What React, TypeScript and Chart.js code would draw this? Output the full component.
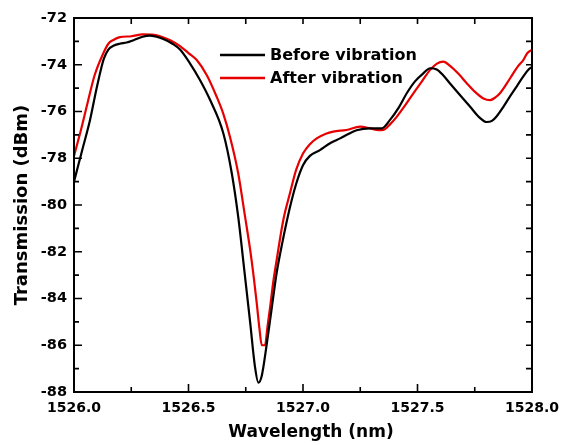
import React, { useEffect, useRef } from "react";
import { Chart, registerables } from "chart.js";

Chart.register(...registerables);

// ---- Data ----
const seriesLabels = ["Before vibration", "After vibration"];
const seriesColors = ["#000000", "#e60000"];

const xTickLabels = ["1526.0", "1526.5", "1527.0", "1527.5", "1528.0"];
const yTickLabels = ["-88", "-86", "-84", "-82", "-80", "-78", "-76", "-74", "-72"];

const beforeWl = [
  1526.0, 1526.02, 1526.04, 1526.07, 1526.1, 1526.13, 1526.15, 1526.17, 1526.2, 1526.23,
  1526.26, 1526.3, 1526.33, 1526.36, 1526.39, 1526.43, 1526.463, 1526.507, 1526.55, 1526.594,
  1526.652, 1526.689, 1526.717, 1526.745, 1526.769, 1526.79, 1526.805, 1526.82, 1526.841, 1526.865,
  1526.885, 1526.91, 1526.943, 1526.97, 1527.0, 1527.03, 1527.074, 1527.12, 1527.162, 1527.2,
  1527.234, 1527.293, 1527.344, 1527.38, 1527.42, 1527.453, 1527.49, 1527.525, 1527.555, 1527.584,
  1527.612, 1527.642, 1527.69, 1527.73, 1527.77, 1527.802, 1527.825, 1527.846, 1527.875, 1527.904,
  1527.935, 1527.962, 1527.985, 1528.0,
];
const beforeDbm = [
  -79.0, -78.25, -77.5, -76.36, -74.95, -73.75, -73.35, -73.2, -73.1, -73.05,
  -72.95, -72.8, -72.75, -72.8, -72.9, -73.1, -73.35, -73.95, -74.65, -75.5,
  -76.93, -78.64, -80.5, -82.9, -85.0, -86.9, -87.6, -87.3, -86.0, -84.3,
  -82.9, -81.6, -80.1, -79.1, -78.3, -77.9, -77.65, -77.35, -77.15, -76.95,
  -76.8, -76.72, -76.72, -76.36, -75.8, -75.22, -74.7, -74.37, -74.15, -74.2,
  -74.45, -74.8, -75.35, -75.8, -76.25, -76.45, -76.4, -76.2, -75.8, -75.35,
  -74.9, -74.5, -74.2, -74.1,
];

const afterWl = [
  1526.0, 1526.03, 1526.06, 1526.09, 1526.128, 1526.15, 1526.172, 1526.2, 1526.25, 1526.3,
  1526.35, 1526.376, 1526.42, 1526.463, 1526.5, 1526.536, 1526.58, 1526.623, 1526.652, 1526.681,
  1526.717, 1526.747, 1526.769, 1526.785, 1526.798, 1526.81, 1526.82, 1526.834, 1526.845, 1526.856,
  1526.87, 1526.885, 1526.914, 1526.943, 1526.97, 1527.0, 1527.03, 1527.06, 1527.1, 1527.132,
  1527.19, 1527.249, 1527.293, 1527.33, 1527.351, 1527.38, 1527.41, 1527.445, 1527.482, 1527.52,
  1527.555, 1527.585, 1527.613, 1527.642, 1527.68, 1527.715, 1527.75, 1527.788, 1527.817, 1527.84,
  1527.86, 1527.89, 1527.918, 1527.94, 1527.962, 1527.98, 1528.0,
];
const afterDbm = [
  -77.9, -76.8, -75.6, -74.45, -73.51, -73.1, -72.94, -72.82, -72.78, -72.7,
  -72.72, -72.78, -72.95, -73.2, -73.5, -73.8, -74.45, -75.37, -76.1, -77.08,
  -78.64, -80.5, -81.9, -83.1, -84.2, -85.3, -86.0, -86.0, -85.2, -84.4,
  -83.3, -82.35, -80.64, -79.5, -78.5, -77.8, -77.4, -77.15, -76.95, -76.86,
  -76.79, -76.65, -76.72, -76.8, -76.79, -76.55, -76.22, -75.75, -75.22, -74.7,
  -74.22, -73.95, -73.87, -74.05, -74.4, -74.79, -75.15, -75.44, -75.51, -75.4,
  -75.22, -74.8, -74.37, -74.05, -73.8, -73.5, -73.35,
];

const xTitle = "Wavelength (nm)";
const yTitle = "Transmission (dBm)";

const FONT = "'DejaVu Sans', sans-serif";

const toPoints = (xs: number[], ys: number[]) => xs.map((x, i) => ({ x, y: ys[i] }));

const framePlugin = {
  id: "frame",
  afterDatasetsDraw(chart: any) {
    const { ctx, chartArea } = chart;
    const xs = chart.scales.x;
    const ys = chart.scales.y;
    const { left, right, top, bottom } = chartArea;
    ctx.save();
    ctx.strokeStyle = "#000";
    ctx.lineWidth = 2;
    ctx.strokeRect(left, top, right - left, bottom - top);
    ctx.lineWidth = 1.6;
    ctx.beginPath();
    // x ticks: every 0.25
    for (let v = xs.min; v <= xs.max + 1e-9; v += 0.25) {
      const px = xs.getPixelForValue(v);
      const major = Math.abs(v * 2 - Math.round(v * 2)) < 1e-6;
      ctx.moveTo(px, bottom);
      ctx.lineTo(px, bottom - (major ? 8 : 5));
      ctx.moveTo(px, top);
      ctx.lineTo(px, top + 6);
    }
    // y ticks: every 1
    for (let v = ys.min; v <= ys.max + 1e-9; v += 1) {
      const py = ys.getPixelForValue(v);
      const major = Math.round(v) % 2 === 0;
      ctx.moveTo(left, py);
      ctx.lineTo(left + (major ? 8 : 5), py);
      ctx.moveTo(right, py);
      ctx.lineTo(right - 6, py);
    }
    ctx.stroke();
    ctx.restore();
  },
  afterDraw(chart: any) {
    const { ctx, chartArea } = chart;
    ctx.save();
    // x-axis title
    ctx.fillStyle = "#000";
    ctx.font = `bold 17px ${FONT}`;
    ctx.textAlign = "center";
    ctx.textBaseline = "middle";
    ctx.fillText(xTitle, (chartArea.left + chartArea.right) / 2 + 8, 433);
    // legend
    const ds = chart.data.datasets;
    const lx = 220;
    const rows = [55, 78];
    ds.forEach((d: any, i: number) => {
      ctx.strokeStyle = d.borderColor;
      ctx.lineWidth = 2.5;
      ctx.beginPath();
      ctx.moveTo(lx, rows[i]);
      ctx.lineTo(lx + 45, rows[i]);
      ctx.stroke();
      ctx.fillStyle = "#000";
      ctx.font = `bold 16px ${FONT}`;
      ctx.textAlign = "left";
      ctx.textBaseline = "middle";
      ctx.fillText(d.label, lx + 50, rows[i] + 1);
    });
    ctx.restore();
  },
};

export default function App() {
  const ref = useRef<HTMLCanvasElement>(null);

  useEffect(() => {
    if (!ref.current) return;
    const xVals = xTickLabels.map(Number);
    const yVals = yTickLabels.map(Number);
    const chart = new Chart(ref.current, {
      type: "line",
      data: {
        datasets: [
          {
            label: seriesLabels[0],
            data: toPoints(beforeWl, beforeDbm),
            borderColor: seriesColors[0],
            borderWidth: 2.2,
            pointRadius: 0,
            cubicInterpolationMode: "monotone",
          },
          {
            label: seriesLabels[1],
            data: toPoints(afterWl, afterDbm),
            borderColor: seriesColors[1],
            borderWidth: 2.2,
            pointRadius: 0,
            cubicInterpolationMode: "monotone",
          },
        ],
      },
      options: {
        responsive: false,
        devicePixelRatio: 1,
        animation: false,
        layout: { padding: { top: 18, right: 32, left: 0, bottom: 0 } },
        plugins: { legend: { display: false }, tooltip: { enabled: false } },
        scales: {
          x: {
            type: "linear",
            min: xVals[0],
            max: xVals[xVals.length - 1],
            grid: { display: false, drawTicks: false },
            border: { display: false },
            ticks: {
              stepSize: 0.5,
              color: "#000",
              font: { family: FONT, weight: "bold", size: 14 },
              padding: 8,
              maxRotation: 0,
              callback: (v: any) => Number(v).toFixed(1),
            },
            afterFit: (s: any) => {
              s.height = 53;
              s.paddingLeft = 0;
              s.paddingRight = 0;
            },
          },
          y: {
            type: "linear",
            min: yVals[0],
            max: yVals[yVals.length - 1],
            grid: { display: false, drawTicks: false },
            border: { display: false },
            ticks: {
              stepSize: 2,
              color: "#000",
              font: { family: FONT, weight: "bold", size: 14.5 },
              padding: 7,
              callback: (v: any) => String(v),
            },
            title: {
              display: true,
              text: yTitle,
              color: "#000",
              font: { family: FONT, weight: "bold", size: 18 },
              padding: { top: 12, bottom: 0 },
            },
            afterFit: (s: any) => {
              s.width = 74;
              s.paddingTop = 0;
              s.paddingBottom = 0;
            },
          },
        },
      },
      plugins: [framePlugin],
    } as any);
    return () => chart.destroy();
  }, []);

  return (
    <div style={{ position: "absolute", left: 0, top: 0, width: 564, height: 445, background: "#fff" }}>
      <canvas ref={ref} width={564} height={445} style={{ display: "block", width: 564, height: 445 }} />
    </div>
  );
}
